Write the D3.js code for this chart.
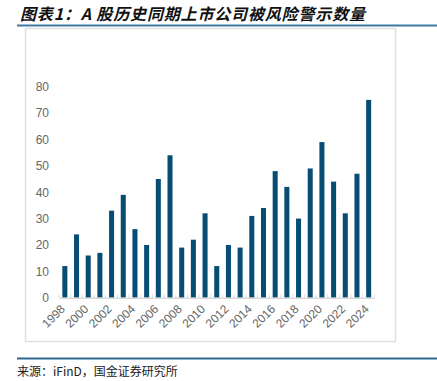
<!DOCTYPE html>
<html><head><meta charset="utf-8">
<script src="https://cdn.jsdelivr.net/npm/d3@7"></script>
<style>body{margin:0;background:#fff;}svg{display:block;}</style>
</head><body>
<svg id="c" width="437" height="381"></svg>
<script>
const years = d3.range(1998, 2025).map(String);
const counts = [12,24,16,17,33,39,26,20,45,54,19,22,32,12,20,19,31,34,48,42,30,49,59,44,32,47,75];
const yTicks = [0,10,20,30,40,50,60,70,80];
const titleText = "图表1：A 股历史同期上市公司被风险警示数量";
const sourceText = "来源：iFinD，国金证券研究所";

const svg = d3.select("#c");
// title
svg.append("text").attr("x",20).attr("y",20)
  .attr("font-family","'Noto Sans CJK SC', sans-serif").attr("font-size",16)
  .attr("font-weight","bold").attr("font-style","italic")
  .attr("textLength",345).attr("lengthAdjust","spacing")
  .attr("fill","#111").text(titleText);
// rules
svg.append("line").attr("x1",17).attr("x2",437).attr("y1",25.5).attr("y2",25.5)
  .attr("stroke","#3f7aa3").attr("stroke-width",2);
svg.append("line").attr("x1",17).attr("x2",437).attr("y1",358.5).attr("y2",358.5)
  .attr("stroke","#2b6890").attr("stroke-width",2);
// chart box
svg.append("rect").attr("x",25.5).attr("y",28.5).attr("width",370).attr("height",313)
  .attr("fill","#fff").attr("stroke","#e0e0e0").attr("stroke-width",1.5);

const x = d3.scaleBand().domain(years).range([59,374.5]).paddingInner(0.57).paddingOuter(0.285);
const y = d3.scaleLinear().domain([0,80]).range([297.7,86.7]);

// bars
svg.append("g").selectAll("rect").data(counts).join("rect")
  .attr("x",(d,i)=>x(years[i])).attr("width",x.bandwidth())
  .attr("y",d=>y(d)).attr("height",d=>y(0)-y(d)).attr("fill","#074d73");

// y axis labels
const ya = svg.append("g").attr("transform","translate(49,0)")
  .call(d3.axisLeft(y).tickValues(yTicks).tickSize(0).tickPadding(0));
ya.select(".domain").remove();
ya.selectAll("text").attr("font-family","Arial, 'Liberation Sans', sans-serif")
  .attr("font-size",12).attr("fill","#666");

// x axis
const xa = svg.append("g").attr("transform","translate(0,297.7)")
  .call(d3.axisBottom(x).tickValues(years.filter((d,i)=>i%2===0)).tickSize(0).tickPadding(0));
xa.select(".domain").attr("stroke","#d9d9d9").attr("stroke-width",1.5);
xa.selectAll("text").attr("font-family","Arial, 'Liberation Sans', sans-serif")
  .attr("font-size",12).attr("fill","#666")
  .attr("text-anchor","end").attr("dy",0).attr("dx",0)
  .attr("transform","translate(1,12) rotate(-45)");
// boundary ticks
const step = x.step();
svg.append("g").selectAll("line").data(d3.range(years.length+1)).join("line")
  .attr("x1",i=>59+i*step).attr("x2",i=>59+i*step)
  .attr("y1",297.7).attr("y2",294.5).attr("stroke","#d9d9d9").attr("stroke-width",1);

// source
svg.append("text").attr("x",17).attr("y",376)
  .attr("font-family","'Noto Sans CJK SC', sans-serif").attr("font-size",12)
  .attr("fill","#222").text(sourceText);
</script>
</body></html>
